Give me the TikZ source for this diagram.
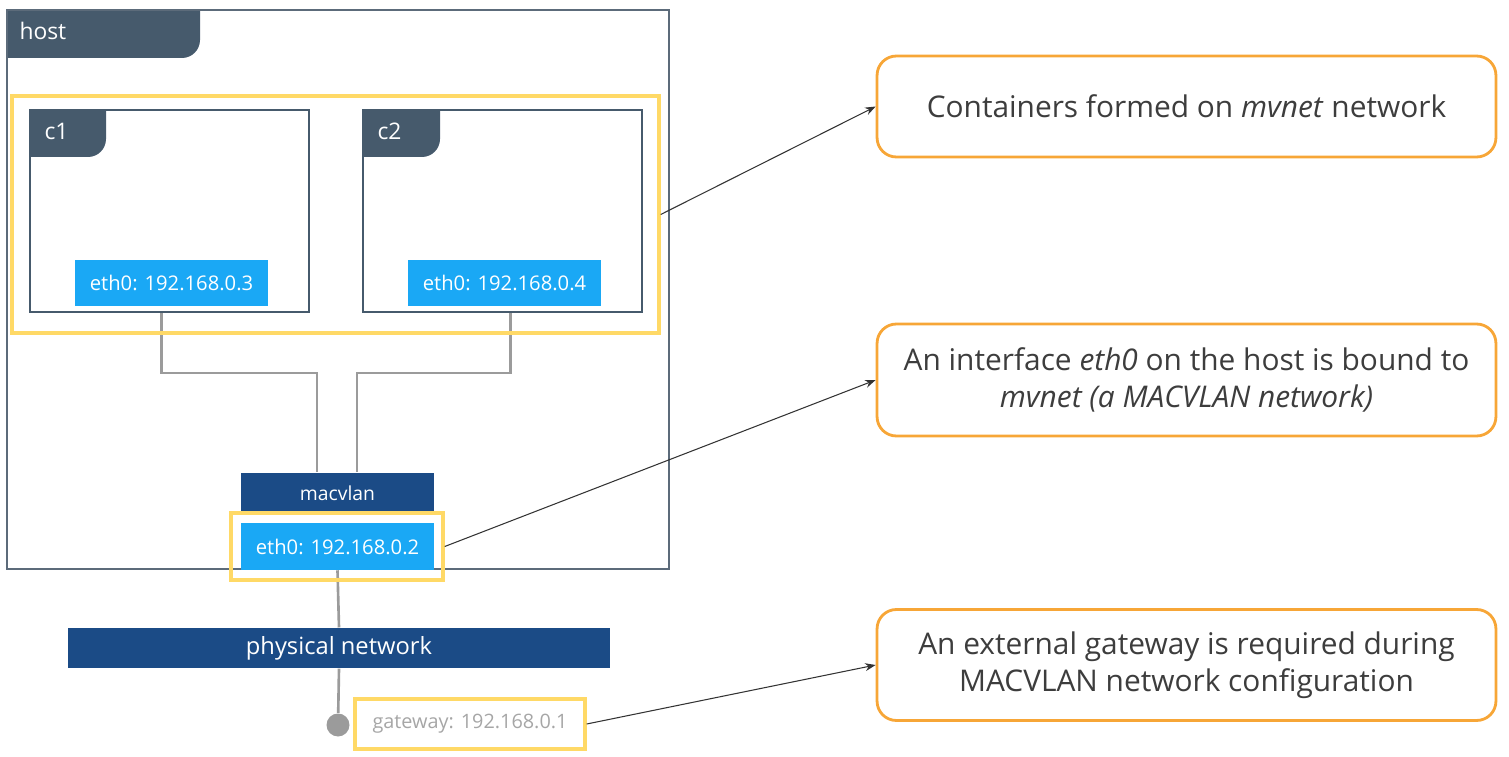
\documentclass[tikz,border=0pt]{standalone}
\usepackage{fontspec}
\setmainfont{Open Sans}
\usetikzlibrary{arrows.meta,calc,positioning}

\definecolor{slate}{HTML}{465A6C}
\definecolor{hostline}{HTML}{5C6B7A}
\definecolor{ethblue}{HTML}{1AA8F5}
\definecolor{netblue}{HTML}{1B4B86}
\definecolor{markyellow}{HTML}{FFD966}
\definecolor{noteorange}{HTML}{F7A637}
\definecolor{wiregray}{HTML}{9B9B9B}
\definecolor{gwtext}{HTML}{A6A6A6}
\definecolor{notetext}{HTML}{3D3D3D}

\begin{document}
\begin{tikzpicture}[x=0.02cm, y=-0.02cm, >={Stealth[length=6pt,width=4.5pt]}, semithick]

    \tikzstyle{hostframe} = [rectangle, draw=hostline, line width=1.2pt, inner sep=0pt, minimum width=13.24cm, minimum height=11.18cm]
    \tikzstyle{cbox} = [rectangle, draw=slate, line width=1.6pt, inner sep=0pt, minimum width=5.58cm, minimum height=4.04cm]
    \tikzstyle{tab} = [fill=slate]
    \tikzstyle{tablbl} = [anchor=west, text=white, font=\fontsize{13}{15}\selectfont, inner sep=0pt]
    \tikzstyle{eth} = [rectangle, fill=ethblue, inner sep=0pt, text=white, font=\fontsize{11.5}{14}\selectfont, minimum width=3.86cm, minimum height=0.93cm]
    \tikzstyle{net} = [rectangle, fill=netblue, inner sep=0pt, text=white, minimum height=0.8cm]
    \tikzstyle{hilite} = [rectangle, draw=markyellow, line width=2pt, inner sep=0pt]
    \tikzstyle{note} = [rectangle, rounded corners=11pt, draw=noteorange, line width=1.6pt, inner sep=0pt, align=center, text=notetext, font=\fontsize{17}{21}\selectfont, minimum width=12.38cm]
    \tikzstyle{wire} = [draw=wiregray, line width=1.5pt]
    \tikzstyle{pointer} = [->, draw=black!80, line width=0.6pt]

    \useasboundingbox (0,0) rectangle (1509,757);

    % host
    \fill[tab] (7,10) -- (200,10) -- (200,40) arc[start angle=0, end angle=90, radius=18] -- (7,58) -- cycle;
    \node (host)     [hostframe] at (338,289.5)            {};
    \node (hostlbl)  [tablbl] at (19,31)                   {host};

    % containers
    \node (c1)       [cbox] at (169.5,211)                 {};
    \fill[tab] (30,110) -- (106,110) -- (106,139) arc[start angle=0, end angle=90, radius=18] -- (30,157) -- cycle;
    \node (c1lbl)    [tablbl] at (44,131)                  {c1};
    \node (eth3)     [eth] at (171.5,283)                  {eth0: 192.168.0.3};

    \node (c2)       [cbox] at (502.5,211)                 {};
    \fill[tab] (363,110) -- (440,110) -- (440,139) arc[start angle=0, end angle=90, radius=18] -- (363,157) -- cycle;
    \node (c2lbl)    [tablbl] at (377,131)                 {c2};
    \node (eth4)     [eth] at (504.5,283)                  {eth0: 192.168.0.4};

    % macvlan, physical network, gateway
    \node (macvlan)  [net, minimum width=3.86cm, font=\fontsize{11}{13}\selectfont] at (337.5,493)          {macvlan};
    \node (eth2)     [eth] at (337.5,546.5)                {eth0: 192.168.0.2};
    \node (physnet)  [net, minimum width=10.84cm, font=\fontsize{13.5}{16}\selectfont] at (339,648)   {physical network};
    \node (gw)       [circle, fill=wiregray, minimum size=0.46cm, inner sep=0pt] at (338,725) {};

    \coordinate (j1) at (317,373);
    \coordinate (j2) at (357,373);
    \draw[wire] ($(c1.south)+(-8,0)$) |- (j1) -- (j1 |- macvlan.north);
    \draw[wire] ($(c2.south)+(8,0)$)  |- (j2) -- (j2 |- macvlan.north);
    \draw[wire] (eth2.south) -- (physnet.north);
    \draw[wire] (physnet.south) -- (gw);

    % highlights
    \node (grpsel)   [hilite, minimum width=12.94cm, minimum height=4.74cm] at (335.5,214.5) {};
    \node (ethsel)   [hilite, minimum width=4.24cm, minimum height=1.34cm] at (337,546.5)    {};
    \node (gwbox)    [hilite, minimum width=4.6cm, minimum height=1cm, text=gwtext, font=\fontsize{11.3}{13}\selectfont] at (470,724) {gateway: 192.168.0.1};

    % notes
    \node (note1)    [note, minimum height=2.02cm] at (1186.5,106.5)  {Containers formed on \emph{mvnet} network};
    \node (note2)    [note, minimum height=2.24cm] at (1186.5,380)    {An interface \emph{eth0} on the host is bound to\\\emph{mvnet (a MACVLAN network)}};
    \node (note3)    [note, minimum height=2.22cm] at (1186.5,665)    {An external gateway is required during\\MACVLAN network configuration};

    \draw[pointer]  (grpsel.east)  --  (note1.west);
    \draw[pointer]  (ethsel.east)  --  (note2.west);
    \draw[pointer]  (gwbox.east)   --  (note3.west);
\end{tikzpicture}
\end{document}
